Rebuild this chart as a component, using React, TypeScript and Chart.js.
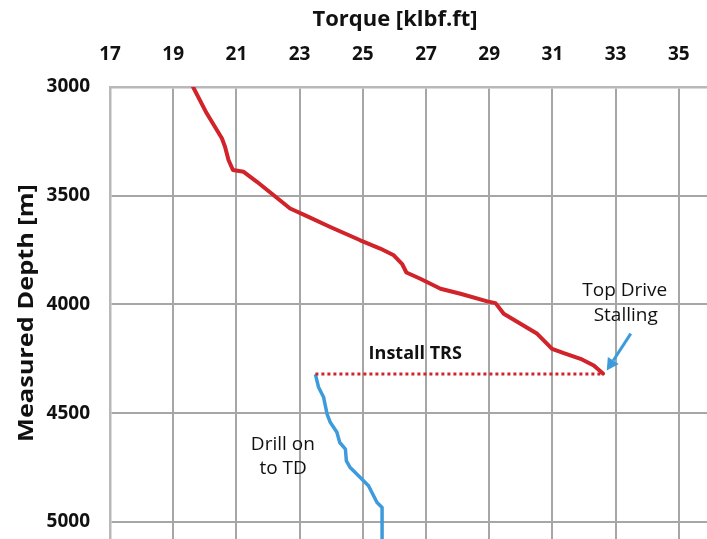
import React, { useEffect, useRef } from 'react';
import { Chart, registerables } from 'chart.js';

Chart.register(...registerables);

// ---- data ----
const xTickValues = [17, 19, 21, 23, 25, 27, 29, 31, 33, 35];
const depthTicks = [3000, 3500, 4000, 4500, 5000];

const redTorque = [19.63, 20.06, 20.54, 20.64, 20.75, 20.89, 21.23, 21.65, 22.18, 22.7, 23.23, 23.97, 24.92, 25.55, 25.98, 26.24, 26.38, 26.82, 27.14, 27.46, 28.09, 28.94, 29.2, 29.46, 29.99, 30.52, 30.99, 31.36, 31.89, 32.31, 32.6];
const redDepth = [3000, 3121, 3236, 3275, 3336, 3382, 3390, 3436, 3498, 3559, 3594, 3644, 3705, 3743, 3774, 3813, 3853, 3882, 3905, 3928, 3951, 3986, 3994, 4043, 4089, 4135, 4204, 4224, 4250, 4281, 4318];

const blueTorque = [23.5, 23.6, 23.76, 23.87, 23.97, 24.18, 24.27, 24.45, 24.48, 24.6, 24.92, 25.18, 25.45, 25.61, 25.61];
const blueDepth = [4322, 4381, 4427, 4504, 4542, 4588, 4635, 4665, 4719, 4750, 4796, 4834, 4911, 4934, 5090];

const trsTorque = [23.5, 32.62];
const trsDepth = [4320, 4320];

const noteTexts = ['Install TRS', 'Top Drive', 'Stalling', 'Drill on', 'to TD'];
const noteTorque = [26.66, 33.29, 33.32, 22.47, 22.48];
const noteDepth = [4226, 3935, 4051, 4643, 4756];
const noteBold = [true, false, false, false, false];

const arrowTorque = [33.48, 32.72];
const arrowDepth = [4134, 4304];

const xTitle = 'Torque [klbf.ft]';
const yTitle = 'Measured Depth [m]';

const RED = '#d1232a';
const BLUE = '#3d9bdc';
const FONT = "'Open Sans', sans-serif";

const pts = (xs: number[], ys: number[]) => xs.map((v, i) => ({ x: v, y: ys[i] }));

const notesPlugin = {
  id: 'notes',
  afterDraw(chart: any) {
    const { ctx, scales } = chart;
    const xs = scales.x;
    const ys = scales.y;
    ctx.save();
    ctx.fillStyle = '#111';
    ctx.textAlign = 'center';
    ctx.textBaseline = 'middle';
    noteTexts.forEach((t, i) => {
      ctx.font = noteBold[i] ? `bold 18px ${FONT}` : `19px ${FONT}`;
      ctx.fillText(t, xs.getPixelForValue(noteTorque[i]), ys.getPixelForValue(noteDepth[i]));
    });
    // arrow
    const x0 = xs.getPixelForValue(arrowTorque[0]);
    const y0 = ys.getPixelForValue(arrowDepth[0]);
    const x1 = xs.getPixelForValue(arrowTorque[1]);
    const y1 = ys.getPixelForValue(arrowDepth[1]);
    const ang = Math.atan2(y1 - y0, x1 - x0);
    const head = 12;
    const hw = 6.5;
    const bx = x1 - head * Math.cos(ang);
    const by = y1 - head * Math.sin(ang);
    ctx.strokeStyle = BLUE;
    ctx.fillStyle = BLUE;
    ctx.lineWidth = 3;
    ctx.beginPath();
    ctx.moveTo(x0, y0);
    ctx.lineTo(bx, by);
    ctx.stroke();
    ctx.beginPath();
    ctx.moveTo(x1, y1);
    ctx.lineTo(bx + hw * Math.sin(ang), by - hw * Math.cos(ang));
    ctx.lineTo(bx - hw * Math.sin(ang), by + hw * Math.cos(ang));
    ctx.closePath();
    ctx.fill();
    // axis titles
    ctx.fillStyle = '#111';
    ctx.font = `bold 22px ${FONT}`;
    ctx.fillText(xTitle, 395, 20);
    ctx.font = `bold 22px ${FONT}`;
    const w = ctx.measureText(yTitle).width;
    ctx.translate(27, 313);
    ctx.rotate(-Math.PI / 2);
    ctx.scale(258 / w, 1);
    ctx.fillText(yTitle, 0, 0);
    ctx.restore();
  },
};

export default function App() {
  const ref = useRef<HTMLCanvasElement | null>(null);

  useEffect(() => {
    if (!ref.current) return;
    const gridColor = '#a6a6a6';
    const chart = new Chart(ref.current, {
      type: 'scatter',
      data: {
        datasets: [
          {
            data: pts(trsTorque, trsDepth),
            showLine: true,
            borderColor: RED,
            borderWidth: 3,
            borderDash: [3, 3],
            pointRadius: 0,
          },
          {
            data: pts(redTorque, redDepth),
            showLine: true,
            borderColor: RED,
            borderWidth: 4,
            pointRadius: 0,
            borderCapStyle: 'round',
            borderJoinStyle: 'round',
          },
          {
            data: pts(blueTorque, blueDepth),
            showLine: true,
            borderColor: BLUE,
            borderWidth: 3.5,
            pointRadius: 0,
            borderJoinStyle: 'round',
          },
        ],
      },
      options: {
        responsive: false,
        animation: false,
        devicePixelRatio: 1,
        layout: { padding: { top: 0, left: 0, right: 4, bottom: 11 } },
        plugins: { legend: { display: false }, tooltip: { enabled: false } },
        scales: {
          x: {
            type: 'linear',
            position: 'top',
            min: 17,
            max: 37,
            afterFit: (s: any) => { s.height = 87; },
            afterBuildTicks: (s: any) => {
              s.ticks = xTickValues.concat([37]).map((v) => ({ value: v }));
            },
            ticks: {
              stepSize: 2,
              padding: 21,
              color: '#111',
              font: { family: FONT, size: 19, weight: 'bold' },
              callback: (v: any) => (xTickValues.includes(Number(v)) ? String(v) : ''),
              maxRotation: 0,
            },
            grid: { color: gridColor, lineWidth: 2, drawTicks: false },
            border: { display: true, color: '#b8b8b8', width: 2.5 },
          },
          y: {
            type: 'linear',
            reverse: true,
            min: 3000,
            max: 5500,
            afterFit: (s: any) => { s.width = 110; },
            afterBuildTicks: (s: any) => {
              s.ticks = depthTicks.concat([5500]).map((v) => ({ value: v }));
            },
            ticks: {
              stepSize: 500,
              padding: 20,
              color: '#111',
              font: { family: FONT, size: 19, weight: 'bold' },
              callback: (v: any) => (depthTicks.includes(Number(v)) ? String(v) : ''),
            },
            grid: { color: gridColor, lineWidth: 2, drawTicks: false },
            border: { display: true, color: '#b8b8b8', width: 2.5 },
          },
        },
      },
      plugins: [notesPlugin],
    } as any);
    return () => chart.destroy();
  }, []);

  return (
    <div style={{ position: 'fixed', left: 0, top: 0, width: 707, height: 539, overflow: 'hidden', background: '#fff' }}>
      <canvas ref={ref} width={763} height={662} style={{ display: 'block' }} />
    </div>
  );
}
